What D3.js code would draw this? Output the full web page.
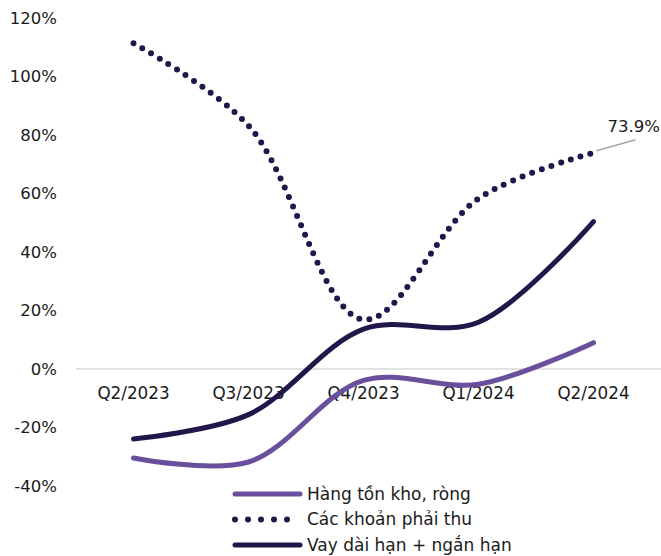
<!DOCTYPE html>
<html>
<head>
<meta charset="utf-8">
<script src="https://cdn.jsdelivr.net/npm/d3@7"></script>
<style>
  html, body { margin: 0; padding: 0; background: #fff; }
  svg text { font-family: "DejaVu Sans", "Noto Sans", sans-serif; fill: #1a1a1a; }
</style>
</head>
<body>
<svg id="chart" width="661" height="556"></svg>
<script>
// Quarterly growth rates (%)
const quarters = ["Q2/2023", "Q3/2023", "Q4/2023", "Q1/2024", "Q2/2024"];
const inventory = [-30.4, -31.8, -3.9, -5.2, 9.0];
const receivables = [111.4, 83.2, 16.9, 58.3, 73.9];
const borrowings = [-23.9, -15.6, 13.6, 16.0, 50.4];
const yTicks = [-40, -20, 0, 20, 40, 60, 80, 100, 120];
const seriesNames = ["Hàng tồn kho, ròng", "Các khoản phải thu", "Vay dài hạn + ngắn hạn"];

const FONT = "'DejaVu Sans', 'Noto Sans', sans-serif";
const svg = d3.select("#chart");

const x = d3.scaleBand().domain(quarters).range([76, 651]);
const y = d3.scaleLinear().domain([-40, 120]).range([486, 18]);
const cx = q => x(q) + x.bandwidth() / 2;

// Y axis labels (no axis line)
const yAxis = d3.axisLeft(y).tickValues(yTicks).tickSize(0).tickPadding(0)
  .tickFormat(d => d + "%");
svg.append("g").attr("transform", "translate(57,0)").call(yAxis)
  .call(g => g.select(".domain").remove())
  .selectAll("text").attr("font-size", 16.5).attr("font-family", FONT)
  .attr("fill", "#1a1a1a");

// Zero baseline
svg.append("line")
  .attr("x1", 76).attr("x2", 661)
  .attr("y1", y(0)).attr("y2", y(0))
  .attr("stroke", "#d9d9d9").attr("stroke-width", 1.3);

// Category labels under the baseline
const xAxis = d3.axisBottom(x).tickSize(0).tickPadding(0);
svg.append("g").attr("transform", `translate(0,${y(0) + 18})`).call(xAxis)
  .call(g => g.select(".domain").remove())
  .selectAll("text").attr("font-size", 16.8).attr("font-family", FONT)
  .attr("fill", "#1a1a1a");

const line = d3.line()
  .x((d, i) => cx(quarters[i]))
  .y(d => y(d))
  .curve(d3.curveCatmullRom.alpha(0.5));

const series = [
  { values: inventory, color: "#6a4f9c", dotted: false },
  { values: receivables, color: "#22164a", dotted: true },
  { values: borrowings, color: "#22164a", dotted: false }
];

series.forEach(s => {
  const p = svg.append("path")
    .attr("d", line(s.values))
    .attr("fill", "none")
    .attr("stroke", s.color)
    .attr("stroke-linecap", "round");
  if (s.dotted) {
    p.attr("stroke-width", 6).attr("stroke-dasharray", "0 10.2");
  } else {
    p.attr("stroke-width", 5);
  }
});

// Value callout on the last receivables point
const last = receivables[receivables.length - 1];
const lx = cx(quarters[quarters.length - 1]);
const ly = y(last);
svg.append("line")
  .attr("x1", lx + 3).attr("y1", ly - 2)
  .attr("x2", lx + 42).attr("y2", ly - 13)
  .attr("stroke", "#a6a6a6").attr("stroke-width", 1.5);
svg.append("text")
  .attr("x", lx + 14).attr("y", ly - 21)
  .attr("font-size", 16.5)
  .text(last.toFixed(1) + "%");

// Legend
const legend = svg.append("g");
series.forEach((s, i) => {
  const ly0 = 494 + i * 25.5;
  const ln = legend.append("line")
    .attr("x1", 235).attr("x2", 300)
    .attr("y1", ly0).attr("y2", ly0)
    .attr("stroke", s.color)
    .attr("stroke-linecap", "round");
  if (s.dotted) {
    ln.attr("stroke-width", 6).attr("stroke-dasharray", "0 13");
  } else {
    ln.attr("stroke-width", 5);
  }
  legend.append("text")
    .attr("x", 307).attr("y", ly0)
    .attr("dy", "0.35em")
    .attr("font-size", 17)
    .text(seriesNames[i]);
});
</script>
</body>
</html>
